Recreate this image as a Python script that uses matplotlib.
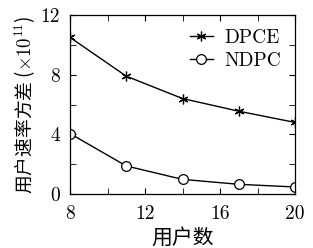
import matplotlib
matplotlib.use("Agg")
import matplotlib.pyplot as plt
from matplotlib.ticker import MultipleLocator

users = [8, 11, 14, 17, 20]
dpce = [10.5, 7.9, 6.4, 5.55, 4.8]
ndpc = [4.05, 1.88, 0.98, 0.65, 0.47]
xticks = [8, 12, 16, 20]
yticks = [0, 4, 8, 12]

plt.rcParams['font.family'] = ['cmr10', 'Noto Sans CJK SC', 'DejaVu Sans']
plt.rcParams['mathtext.fontset'] = 'cm'
plt.rcParams['axes.formatter.use_mathtext'] = True

fig = plt.figure(figsize=(3.13, 2.48), dpi=100)
ax = fig.add_axes([70/313, 1-194/248, 225/313, 179/248])

ax.plot(users, dpce, color='black', lw=1.0, marker=(6, 2, 0), ms=7, mew=0.9, label='DPCE')
ax.plot(users, ndpc, color='black', lw=1.0, marker='o', ms=7, mfc='white', mew=0.9, label='NDPC')

ax.set_xlim(8, 20)
ax.set_ylim(0, 12)
ax.set_xticks(xticks)
ax.set_yticks(yticks)
ax.set_xticklabels([str(v) for v in xticks])
ax.set_yticklabels([str(v) for v in yticks])
ax.xaxis.set_minor_locator(MultipleLocator(2))
ax.yaxis.set_minor_locator(MultipleLocator(2))
ax.tick_params(which='both', direction='in', top=True, right=True, labelsize=14)
ax.tick_params(axis='x', pad=8)
ax.tick_params(axis='y', pad=7)
ax.tick_params(which='major', length=4)
ax.tick_params(which='minor', length=4)
for s in ax.spines.values():
    s.set_linewidth(0.9)

ax.set_xlabel('用户数', fontsize=15, family=['Noto Sans CJK SC'], labelpad=3)
ax.set_ylabel('用户速率方差 ($\\times10^{11}$)', fontsize=13.5, family=['Noto Sans CJK SC', 'DejaVu Sans'], labelpad=3)

leg = ax.legend(loc='upper right', frameon=False, fontsize=14, handlelength=1.2,
                handletextpad=0.6, labelspacing=0.3, borderaxespad=0.3)

fig.savefig('out.png', dpi=100)
